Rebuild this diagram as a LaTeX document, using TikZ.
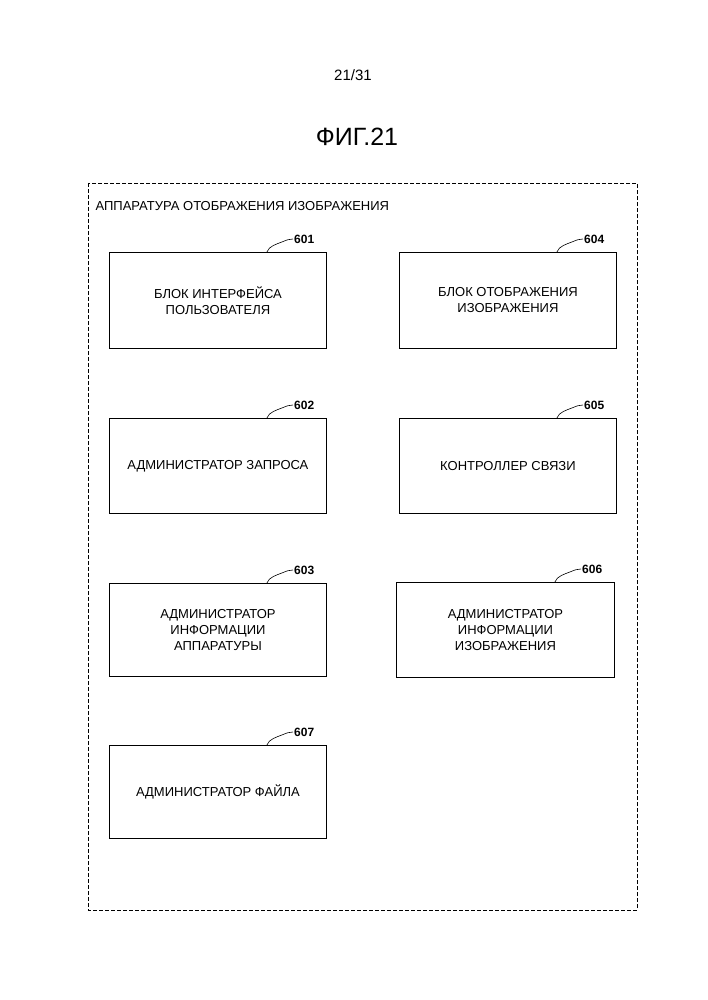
\documentclass[tikz,border=0pt]{standalone}
\usepackage{fontspec}
\setmainfont{Liberation Sans}
\begin{document}
\begin{tikzpicture}[x=1pt,y=-1pt,
  blk/.style={draw,line width=0.9pt,minimum width=217pt,minimum height=95pt,align=center,font=\fontsize{13}{16}\selectfont,anchor=north west,inner sep=0pt},
  num/.style={font=\bfseries\fontsize{12}{14}\selectfont,anchor=west,inner sep=1pt}]
\useasboundingbox (0,0) rectangle (707,1000);
\node (pg) at (353,75) {\fontsize{15}{18}\selectfont 21/31};
\node (fig) at (357,137) {\fontsize{25}{30}\selectfont ФИГ.21};
\draw[dash pattern=on 4pt off 2pt,line width=0.6pt] (88,183) rectangle (637,910);
\node[anchor=west,font=\fontsize{13}{16}\selectfont] (ttl) at (92,206) {АППАРАТУРА ОТОБРАЖЕНИЯ ИЗОБРАЖЕНИЯ};
\newcommand{\blkn}[6]{%
  \node[blk,minimum width=#3pt,minimum height=#4pt] (b#5) at (#1,#2) {#6};
  \node[num] (n#5) at (#1+#3-33,#2-13) {#5};
  \draw[line width=0.6pt] ([xshift=-60pt]b#5.north east) .. controls ([xshift=-58pt,yshift=6pt]b#5.north east) and ([xshift=-50pt,yshift=8pt]b#5.north east) .. ([xshift=-45pt,yshift=10pt]b#5.north east) .. controls ([xshift=-40pt,yshift=12pt]b#5.north east) and ([xshift=-38pt,yshift=13pt]b#5.north east) .. (n#5.west);}
\blkn{109}{252}{217}{96}{601}{БЛОК ИНТЕРФЕЙСА\\ПОЛЬЗОВАТЕЛЯ}
\blkn{399}{252}{217}{96}{604}{БЛОК ОТОБРАЖЕНИЯ\\ИЗОБРАЖЕНИЯ}
\blkn{109}{418}{217}{95}{602}{АДМИНИСТРАТОР ЗАПРОСА}
\blkn{399}{418}{217}{95}{605}{КОНТРОЛЛЕР СВЯЗИ}
\blkn{109}{583}{217}{93}{603}{АДМИНИСТРАТОР\\ИНФОРМАЦИИ\\АППАРАТУРЫ}
\blkn{396}{582}{218}{95}{606}{АДМИНИСТРАТОР\\ИНФОРМАЦИИ\\ИЗОБРАЖЕНИЯ}
\blkn{109}{745}{217}{93}{607}{АДМИНИСТРАТОР ФАЙЛА}
\end{tikzpicture}
\end{document}
